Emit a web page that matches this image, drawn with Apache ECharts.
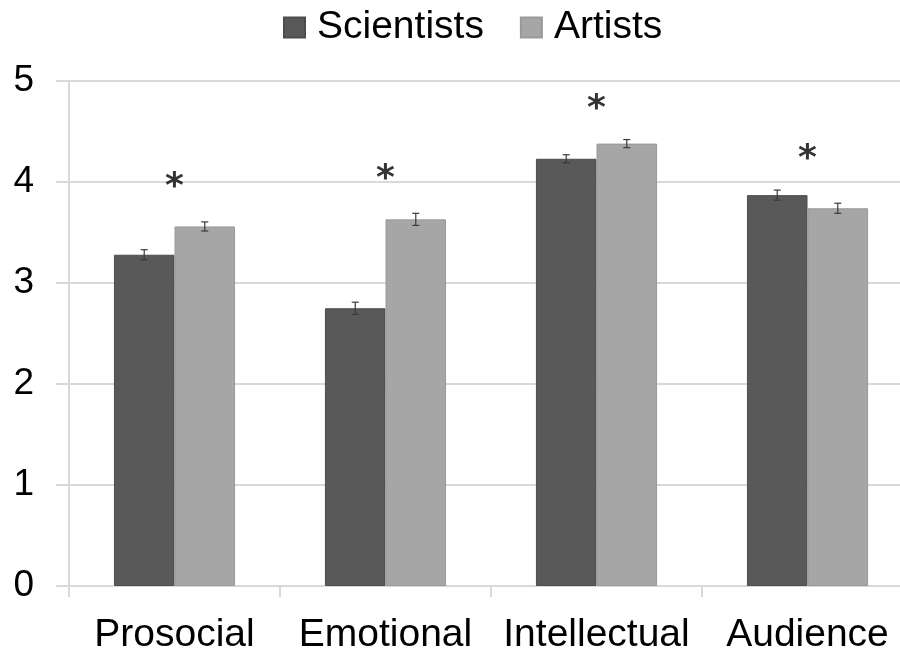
<!DOCTYPE html>
<html>
<head>
<meta charset="utf-8">
<script src="https://cdn.jsdelivr.net/npm/echarts@6/dist/echarts.min.js"></script>
<style>
  html, body { margin: 0; padding: 0; background: #fff; }
  #chart { width: 900px; height: 656px; }
</style>
</head>
<body>
<div id="chart"></div>
<script>
// Mean ratings per motive, by group
const categories = ['Prosocial', 'Emotional', 'Intellectual', 'Audience'];
const scientists = [3.28, 2.75, 4.23, 3.87];
const artists = [3.56, 3.63, 4.38, 3.74];
// Standard errors
const scientistsErr = [0.05, 0.06, 0.04, 0.05];
const artistsErr = [0.045, 0.06, 0.04, 0.05];
// Significance markers (height on the value axis)
const sigLevel = [4.02, 4.10, 4.80, 4.30];
const sigText = ['*', '*', '*', '*'];

const FONT = '"Liberation Sans", Arial, sans-serif';
const COLORS = { scientists: '#595959', artists: '#a6a6a6' };
const CAT_GAP = 0.426;

function errorSeries(values, errs, side) {
  return {
    type: 'custom',
    name: side < 0 ? 'Scientists SE' : 'Artists SE',
    z: 5,
    silent: true,
    data: values.map((v, i) => [i, v - errs[i], v + errs[i]]),
    encode: { x: 0, y: [1, 2] },
    renderItem: function (params, api) {
      const band = api.size([1, 0])[0];
      const barW = band * (1 - CAT_GAP) / 2;
      const lo = api.coord([api.value(0), api.value(1)]);
      const hi = api.coord([api.value(0), api.value(2)]);
      const x = lo[0] + side * barW / 2;
      const cap = 3.5;
      const style = { stroke: '#3a3a3a', lineWidth: 1.2, fill: null };
      return {
        type: 'group',
        children: [
          { type: 'line', shape: { x1: x, y1: lo[1], x2: x, y2: hi[1] }, style: style },
          { type: 'line', shape: { x1: x - cap, y1: hi[1], x2: x + cap, y2: hi[1] }, style: style },
          { type: 'line', shape: { x1: x - cap, y1: lo[1], x2: x + cap, y2: lo[1] }, style: style }
        ]
      };
    }
  };
}

const chart = echarts.init(document.getElementById('chart'), null, { renderer: 'canvas' });
chart.setOption({
  animation: false,
  backgroundColor: '#ffffff',
  textStyle: { fontFamily: FONT },
  legend: {
    data: ['Scientists', 'Artists'],
    left: 278,
    top: 3,
    itemWidth: 21,
    itemHeight: 20,
    itemGap: 36,
    icon: 'rect',
    textStyle: { fontFamily: FONT, fontSize: 39, color: '#000', padding: [0, 0, 0, 7] }
  },
  grid: {
    left: 69, right: -13, top: 81, bottom: 70,
    containLabel: false,
    outerBoundsMode: 'none'
  },
  xAxis: {
    type: 'category',
    data: categories,
    axisLine: { lineStyle: { color: '#d9d9d9', width: 2 } },
    axisTick: { show: true, interval: 0, length: 11, lineStyle: { color: '#d9d9d9', width: 2 } },
    axisLabel: { interval: 0, fontFamily: FONT, fontSize: 39, color: '#000', margin: 30 }
  },
  yAxis: {
    type: 'value',
    min: 0,
    max: 5,
    interval: 1,
    axisLine: { show: true, lineStyle: { color: '#d9d9d9', width: 2 } },
    axisTick: { show: true, length: 13, lineStyle: { color: '#d9d9d9', width: 2 } },
    axisLabel: { fontFamily: FONT, fontSize: 37, color: '#000', margin: 35 },
    splitLine: { lineStyle: { color: '#d9d9d9', width: 2 } }
  },
  series: [
    {
      name: 'Scientists',
      type: 'bar',
      data: scientists,
      barGap: '0%',
      barCategoryGap: (CAT_GAP * 100) + '%',
      itemStyle: { color: COLORS.scientists, borderColor: '#4d4d4d', borderWidth: 1 }
    },
    {
      name: 'Artists',
      type: 'bar',
      data: artists,
      barGap: '0%',
      barCategoryGap: (CAT_GAP * 100) + '%',
      itemStyle: { color: COLORS.artists, borderColor: '#999999', borderWidth: 1 }
    },
    errorSeries(scientists, scientistsErr, -1),
    errorSeries(artists, artistsErr, 1),
    {
      name: 'Significance',
      type: 'scatter',
      silent: true,
      symbolSize: 0,
      z: 6,
      data: sigLevel.map((v, i) => [i, v]),
      label: {
        show: true,
        position: 'inside',
        offset: [0, 8],
        formatter: p => sigText[p.dataIndex],
        fontFamily: '"DejaVu Sans", sans-serif',
        fontWeight: 'bold',
        fontSize: 36,
        color: '#000'
      }
    }
  ]
});
</script>
</body>
</html>
